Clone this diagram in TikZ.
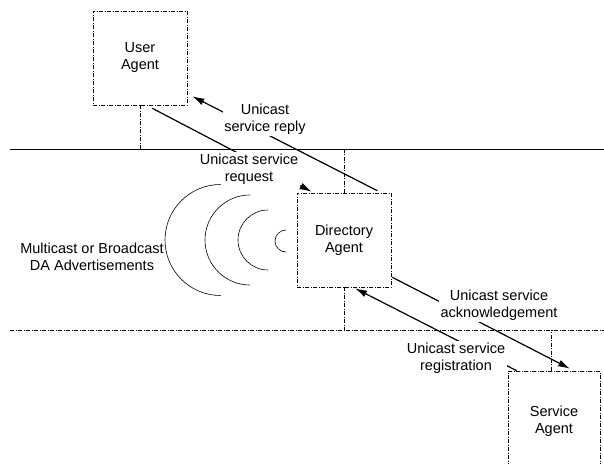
\documentclass[tikz,border=0pt]{standalone}
\usepackage{fontspec}
\setmainfont{Liberation Sans}
\usetikzlibrary{arrows.meta}

\begin{document}
\begin{tikzpicture}[x=1pt,y=-1pt,
    agent/.style={draw, line width=0.6pt, dash pattern=on 4pt off 1.5pt on 1pt off 1.5pt,
      minimum width=94pt, minimum height=94pt, align=center, font=\fontsize{14.5}{17}\selectfont},
    msg/.style={-{Latex[length=12pt,width=7pt]}, line width=1.2pt},
    lbl/.style={fill=white, align=center, inner sep=1.5pt, font=\fontsize{14.5}{17}\selectfont},
    tie/.style={line width=0.6pt, dash pattern=on 4pt off 1.5pt on 1pt off 1.5pt}]
  \useasboundingbox (0,0) rectangle (604,463);
  % Agents
  \node[agent] (UA) at (140,58) {User\\Agent};
  \node[agent] (DA) at (344,240) {Directory\\Agent};
  \node[agent, minimum width=92pt, minimum height=100pt] (SA) at (554,421) {Service\\Agent};
  % Unicast messages
  \draw[msg] ([xshift=-14pt,yshift=2pt]DA.north east) -- ([xshift=5pt,yshift=9pt]UA.south east);
  \draw[msg] ([xshift=-35pt,yshift=-3pt]UA.south east) -- ([xshift=15pt,yshift=1pt]DA.north west);
  \draw[msg] ([xshift=1pt,yshift=10pt]DA.south east) -- ([xshift=16pt,yshift=2pt]SA.north);
  \draw[msg] ([xshift=9pt]SA.north west) -- ([xshift=11pt,yshift=-1pt]DA.south);
  % Message labels
  \node[lbl] (reply) at (265,119) {Unicast\\service reply};
  \node[lbl] (request) at (249,169) {Unicast service\\request};
  \node[lbl] (ack) at (499,305) {Unicast service\\acknowledgement};
  \node[lbl] (reg) at (456,358) {Unicast service\\registration};
  % Network segments
  \coordinate (topL) at (10,149);
  \coordinate (topR) at (604,149);
  \coordinate (botL) at (10,330);
  \coordinate (botR) at (604,330);
  \draw[line width=0.8pt] (topL) -- (topR);
  \draw[tie] (botL) -- (botR);
  \draw[tie] (UA.south) -- (UA.south |- topL);
  \draw[tie] (DA.north) -- (DA.north |- topL);
  \draw[tie] (DA.south) -- (DA.south |- botL);
  \draw[tie] ([xshift=-3pt]SA.north) -- ([xshift=-3pt]SA.north |- botL);
  % Advertisement waves
  \foreach \cx/\cy/\r in {220.5/240/55.5, 250/240/45, 268/240/30, 286/241/11}
    \draw[line width=0.6pt] (\cx,\cy+\r) arc[start angle=90, end angle=270, radius=\r];
  \node[lbl, fill=none] (advert) at (92,257) {Multicast or Broadcast\\DA Advertisements};
\end{tikzpicture}
\end{document}
